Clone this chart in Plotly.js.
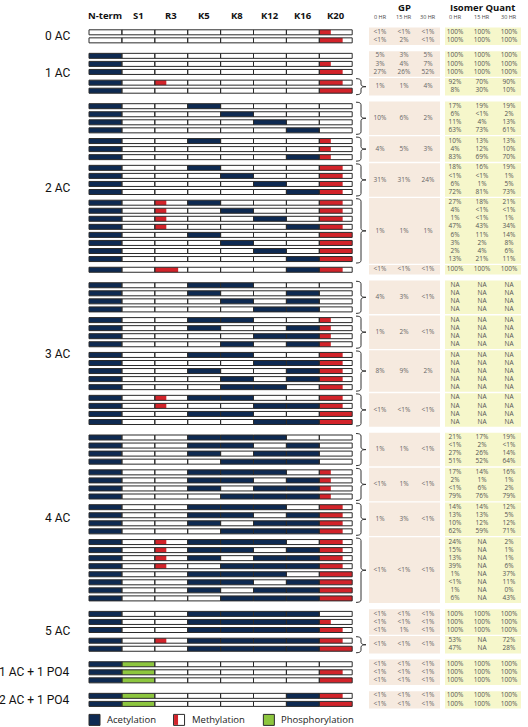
<!DOCTYPE html>
<html><head><meta charset="utf-8">
<script src="https://cdn.plot.ly/plotly-3.0.1.min.js"></script>
<style>html,body{margin:0;padding:0;background:#fff}#chart{width:528px;height:727px}</style>
</head><body><div id="chart"></div>
<script>
// ---------------- DATA ----------------
const columns = ["N-term", "S1", "R3", "K5", "K8", "K12", "K16", "K20"];
const timepoints = ["0 HR", "15 HR", "30 HR"];
const sectionLabels = ["0 AC", "1 AC", "2 AC", "3 AC", "4 AC", "5 AC", "1 AC + 1 PO4", "2 AC + 1 PO4"];
const legendLabels = ["Acetylation", "Methylation", "Phosphorylation"];
// row code per column: 0 none, a acetyl, p phospho, 1/2/3 mono/di/tri-methyl
const blockSection = [0, 1, 1, 2, 2, 2, 2, 2, 3, 3, 3, 3, 4, 4, 4, 4, 5, 5, 6, 7];
const blockBraced = [false, false, true, true, true, true, true, false, true, true, true, true, true, true, true, true, false, true, false, false];
const blockRows = [
  ["00000001", "00000002"],
  ["a0000000", "a0000001", "a0000002"],
  ["a0100002", "a0000003"],
  ["a00a0000", "a000a000", "a0000a00", "a00000a0"],
  ["a00a0001", "a0000001", "a00000a1"],
  ["a00a0002", "a000a002", "a0000a02", "a00000a2"],
  ["a01a0002", "a010a002", "a0100a02", "a01000a2", "a00a0003", "a000a003", "a0000a03", "a00000a3"],
  ["a02000a2"],
  ["a00aa000", "a00a00a0", "a000a0a0", "a0000aa0"],
  ["a00aa001", "a00a00a1", "a0000aa1", "a000a0a1"],
  ["a00aa002", "a0000aa2", "a00a00a2", "a000a0a2", "a000aa02"],
  ["a01aa002", "a0100aa2", "a00aa003", "a0000aa3"],
  ["a00aaa00", "a00aa0a0", "a00a0aa0", "a000aaa0"],
  ["a00aaa01", "a00aa0a1", "a00a0aa1", "a000aaa1"],
  ["a00aaa02", "a00aa0a2", "a00a0aa2", "a000aaa2"],
  ["a01aaa02", "a01aa0a2", "a01a0aa2", "a010aaa2", "a00aaa03", "a00aa0a3", "a00a0aa3", "a000aaa3"],
  ["a00aaaa0", "a00aaaa1", "a00aaaa2"],
  ["a01aaaa2", "a00aaaa3"],
  ["ap000000", "ap000002", "ap000003"],
  ["ap0000a2", "ap0000a3"]
];
// GP values: braced block -> one triple; otherwise one triple per row
const gpValues = [
  [["<1%", "<1%", "<1%"], ["<1%", "2%", "<1%"]],
  [["5%", "3%", "5%"], ["3%", "4%", "7%"], ["27%", "26%", "52%"]],
  [["1%", "1%", "4%"]],
  [["10%", "6%", "2%"]],
  [["4%", "5%", "3%"]],
  [["31%", "31%", "24%"]],
  [["1%", "1%", "1%"]],
  [["<1%", "<1%", "<1%"]],
  [["4%", "3%", "<1%"]],
  [["1%", "2%", "<1%"]],
  [["8%", "9%", "2%"]],
  [["<1%", "<1%", "<1%"]],
  [["1%", "1%", "<1%"]],
  [["<1%", "1%", "<1%"]],
  [["1%", "3%", "<1%"]],
  [["<1%", "<1%", "<1%"]],
  [["<1%", "<1%", "<1%"], ["<1%", "<1%", "<1%"], ["<1%", "1%", "<1%"]],
  [["<1%", "<1%", "<1%"]],
  [["<1%", "<1%", "<1%"], ["<1%", "<1%", "<1%"], ["<1%", "<1%", "<1%"]],
  [["<1%", "<1%", "<1%"], ["<1%", "<1%", "<1%"]]
];
const H100 = ["100%", "100%", "100%"];
const NA3 = ["NA", "NA", "NA"];
const iqValues = [
  [H100, H100],
  [H100, H100, H100],
  [["92%", "70%", "90%"], ["8%", "30%", "10%"]],
  [["17%", "19%", "19%"], ["6%", "<1%", "2%"], ["11%", "4%", "13%"], ["63%", "73%", "61%"]],
  [["10%", "13%", "13%"], ["4%", "12%", "10%"], ["83%", "69%", "70%"]],
  [["18%", "16%", "19%"], ["<1%", "<1%", "1%"], ["6%", "1%", "5%"], ["72%", "81%", "73%"]],
  [["27%", "18%", "21%"], ["4%", "<1%", "<1%"], ["1%", "<1%", "1%"], ["47%", "43%", "34%"], ["6%", "11%", "14%"], ["3%", "2%", "8%"], ["2%", "4%", "6%"], ["13%", "21%", "11%"]],
  [H100],
  [NA3, NA3, NA3, NA3],
  [NA3, NA3, NA3, NA3],
  [NA3, NA3, NA3, NA3, NA3],
  [NA3, NA3, NA3, NA3],
  [["21%", "17%", "19%"], ["<1%", "2%", "<1%"], ["27%", "26%", "14%"], ["51%", "52%", "64%"]],
  [["17%", "14%", "16%"], ["2%", "1%", "1%"], ["<1%", "6%", "2%"], ["79%", "76%", "79%"]],
  [["14%", "14%", "12%"], ["13%", "13%", "5%"], ["10%", "12%", "12%"], ["62%", "59%", "71%"]],
  [["24%", "NA", "2%"], ["15%", "NA", "1%"], ["13%", "NA", "1%"], ["39%", "NA", "6%"], ["1%", "NA", "37%"], ["<1%", "NA", "11%"], ["1%", "NA", "0%"], ["6%", "NA", "43%"]],
  [H100, H100, H100],
  [["53%", "NA", "72%"], ["47%", "NA", "28%"]],
  [H100, H100, H100],
  [H100, H100]
];
const methylFraction = { "1": 0.35, "2": 0.71, "3": 1.0 };

// ---------------- LAYOUT CONSTANTS ----------------
const W = 528, H = 727;
const BAR_LEFT = 89, CELL_W = 32.9, BAR_H = 5;
const TOP = 32.3, STEP = 8.05, BLOCK_GAP = 10.7, SECTION_GAP = 15.5;
const GP_X = [380, 404, 428], IQ_X = [455, 482, 509];
const GP_BOX = [369, 440], IQ_BOX = [445, 521];
const NAVY = "#0e2a52", RED = "#d2232a", GREEN = "#8dc63f", EDGE = "#2b2b2b";
const FONT = "Open Sans, Noto Sans, sans-serif";
const LABEL_FONT = "Roboto, Open Sans, sans-serif";

// ---------------- BUILD ----------------
let rows = [];
let blocks = [];
let secExt = {};
let y = TOP;
blockRows.forEach((bRows, b) => {
  if (b > 0) y += (blockSection[b] !== blockSection[b - 1]) ? SECTION_GAP : BLOCK_GAP;
  const ys = [];
  bRows.forEach((code, r) => {
    if (r > 0) y += STEP;
    rows.push({ y: y, code: code });
    ys.push(y);
  });
  blocks.push({ y0: ys[0], y1: ys[ys.length - 1], ys: ys, b: b });
  const s = blockSection[b];
  if (!secExt[s]) secExt[s] = [ys[0], ys[ys.length - 1]];
  else secExt[s][1] = ys[ys.length - 1];
});
const lastY = rows[rows.length - 1].y;

const traces = [];
columns.forEach((col, c) => {
  traces.push({
    type: "bar", orientation: "h",
    y: rows.map(r => r.y), x: rows.map(() => CELL_W), base: rows.map(() => BAR_LEFT + c * CELL_W),
    width: BAR_H,
    marker: { color: rows.map(r => r.code[c] === "a" ? NAVY : (r.code[c] === "p" ? GREEN : "#ffffff")), line: { width: 0 } },
    hoverinfo: "skip", showlegend: false
  });
});
const my = [], mx = [], mb = [];
rows.forEach(r => {
  for (let c = 0; c < columns.length; c++) {
    const f = methylFraction[r.code[c]];
    if (f) { my.push(r.y); mx.push(f * CELL_W); mb.push(BAR_LEFT + c * CELL_W); }
  }
});
traces.push({ type: "bar", orientation: "h", y: my, x: mx, base: mb, width: BAR_H,
  marker: { color: RED, line: { width: 0 } }, hoverinfo: "skip", showlegend: false });
columns.forEach((col, c) => {
  traces.push({
    type: "bar", orientation: "h",
    y: rows.map(r => r.y), x: rows.map(() => CELL_W), base: rows.map(() => BAR_LEFT + c * CELL_W),
    width: BAR_H,
    marker: { color: "rgba(0,0,0,0)", line: { width: 1, color: EDGE } },
    hoverinfo: "skip", showlegend: false
  });
});

const gx = [], gy = [], gt = [], ix = [], iy = [], it = [];
const shapes = [];
blocks.forEach(bl => {
  const b = bl.b;
  shapes.push({ type: "rect", xref: "x", yref: "y", x0: GP_BOX[0], x1: GP_BOX[1], y0: bl.y0 - 4.7, y1: bl.y1 + 4.7,
    fillcolor: "#f6eadf", line: { width: 0 }, layer: "below" });
  shapes.push({ type: "rect", xref: "x", yref: "y", x0: IQ_BOX[0], x1: IQ_BOX[1], y0: bl.y0 - 4.7, y1: bl.y1 + 4.7,
    fillcolor: "#f6f7cb", line: { width: 0 }, layer: "below" });
  if (blockBraced[b]) {
    const mid = (bl.y0 + bl.y1) / 2;
    gpValues[b][0].forEach((v, k) => { gx.push(GP_X[k]); gy.push(mid); gt.push(v); });
    const t = bl.y0 - 4, e = bl.y1 + 4, x0 = 356, xm = 361, tip = 366, r = 2.5;
    shapes.push({ type: "path", xref: "x", yref: "y",
      path: `M ${x0},${t} Q ${xm},${t} ${xm},${t + r} L ${xm},${mid - r} Q ${xm},${mid} ${tip},${mid} Q ${xm},${mid} ${xm},${mid + r} L ${xm},${e - r} Q ${xm},${e} ${x0},${e}`,
      line: { color: "#333", width: 1 } });
  } else {
    bl.ys.forEach((yy, r) => gpValues[b][r].forEach((v, k) => { gx.push(GP_X[k]); gy.push(yy); gt.push(v); }));
  }
  bl.ys.forEach((yy, r) => iqValues[b][r].forEach((v, k) => { ix.push(IQ_X[k]); iy.push(yy); it.push(v); }));
});
traces.push({ type: "scatter", mode: "text", x: gx, y: gy, text: gt, textposition: "middle center",
  textfont: { family: FONT, size: 6.5, color: "#666" }, hoverinfo: "skip", showlegend: false, cliponaxis: false });
traces.push({ type: "scatter", mode: "text", x: ix, y: iy, text: it, textposition: "middle center",
  textfont: { family: FONT, size: 6.5, color: "#555" }, hoverinfo: "skip", showlegend: false, cliponaxis: false });

const ann = [];
columns.forEach((col, c) => ann.push({ x: BAR_LEFT + (c + 0.5) * CELL_W, y: 15, text: "<b>" + col + "</b>", showarrow: false,
  xref: "x", yref: "y", font: { family: FONT, size: 9.5, color: "#111" } }));
ann.push({ x: GP_X[1], y: 7, text: "<b>GP</b>", showarrow: false, xref: "x", yref: "y", font: { family: FONT, size: 9.5, color: "#111" } });
ann.push({ x: IQ_X[1], y: 7, text: "<b>Isomer Quant</b>", showarrow: false, xref: "x", yref: "y", font: { family: FONT, size: 9.5, color: "#111" } });
timepoints.forEach((tp, k) => {
  ann.push({ x: GP_X[k], y: 17, text: tp, showarrow: false, xref: "x", yref: "y", font: { family: FONT, size: 5.5, color: "#444" } });
  ann.push({ x: IQ_X[k], y: 17, text: tp, showarrow: false, xref: "x", yref: "y", font: { family: FONT, size: 5.5, color: "#444" } });
});
sectionLabels.forEach((lab, s) => {
  const e = secExt[s];
  ann.push({ x: 72, y: (e[0] + e[1]) / 2, text: lab, showarrow: false, xref: "x", yref: "y", xanchor: "right",
    font: { family: LABEL_FONT, size: 12, color: "#111" } });
});
const LY = lastY + 16, SQ = 11;
const legendX = [BAR_LEFT, BAR_LEFT + 2.57 * CELL_W, BAR_LEFT + 5.3 * CELL_W];
const legendFill = [NAVY, "#ffffff", GREEN];
legendLabels.forEach((lab, k) => {
  const x0 = legendX[k];
  shapes.push({ type: "rect", xref: "x", yref: "y", x0: x0, x1: x0 + SQ, y0: LY - SQ / 2, y1: LY + SQ / 2,
    fillcolor: legendFill[k], line: { color: EDGE, width: 1 } });
  if (k === 1) shapes.push({ type: "rect", xref: "x", yref: "y", x0: x0 + 0.5, x1: x0 + 4.5, y0: LY - SQ / 2 + 0.5, y1: LY + SQ / 2 - 0.5,
    fillcolor: RED, line: { width: 0 } });
  ann.push({ x: x0 + SQ + 5, y: LY, text: lab, showarrow: false, xref: "x", yref: "y", xanchor: "left",
    font: { family: FONT, size: 9.5, color: "#222" } });
});

const layout = {
  width: W, height: H, margin: { l: 0, r: 0, t: 0, b: 0 },
  paper_bgcolor: "#fff", plot_bgcolor: "#fff",
  barmode: "overlay", showlegend: false,
  xaxis: { range: [0, W], visible: false, fixedrange: true },
  yaxis: { range: [H, 0], visible: false, fixedrange: true },
  shapes: shapes, annotations: ann
};
Plotly.newPlot("chart", traces, layout, { displayModeBar: false, staticPlot: true });
</script></body></html>
